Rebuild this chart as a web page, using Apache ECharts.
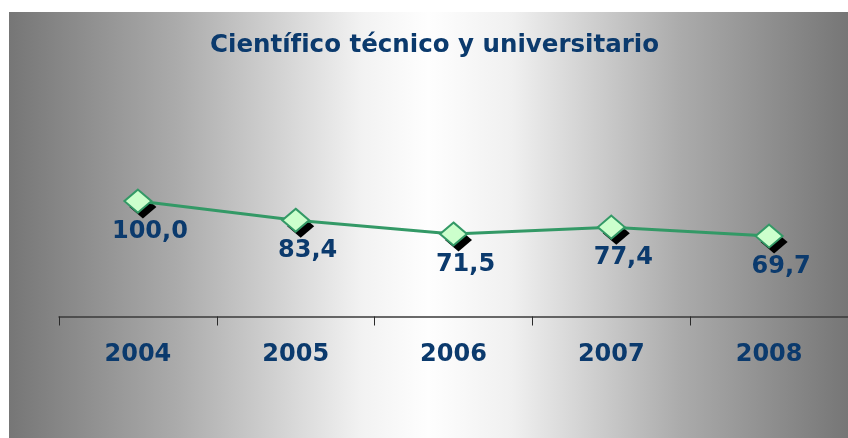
<!DOCTYPE html>
<html lang="es">
<head>
    <meta charset="UTF-8">
    <title>Científico técnico y universitario</title>
    <script src="https://cdn.jsdelivr.net/npm/echarts@6/dist/echarts.min.js"></script>
    <style type="text/css">
        html, body { margin: 0; padding: 0; background: #ffffff; }
        #chart { width: 848px; height: 438px; }
    </style>
</head>
<body>
<div id="chart"></div>
<script type="text/javascript">
    // datos
    var years = ['2004', '2005', '2006', '2007', '2008'];
    var values = [100.0, 83.4, 71.5, 77.4, 69.7];

    var navy = '#0b3a6d';
    var font = 'DejaVu Sans, Verdana, sans-serif';
    var chart = echarts.init(document.getElementById('chart'));

    var option = {
        animation: false,
        graphic: [{
            type: 'rect',
            z: -10,
            silent: true,
            shape: {x: 9, y: 12, width: 839, height: 426},
            style: {
                fill: new echarts.graphic.LinearGradient(0, 0, 1, 0, [
                    {offset: 0, color: '#767676'},
                    {offset: 0.2, color: '#ababab'},
                    {offset: 0.42, color: '#f2f2f2'},
                    {offset: 0.5, color: '#fefefe'},
                    {offset: 0.6, color: '#f0f0f0'},
                    {offset: 0.8, color: '#ababab'},
                    {offset: 1, color: '#767676'}
                ])
            }
        }],
        title: {
            text: 'Científico técnico y universitario',
            left: 210,
            top: 33,
            padding: 0,
            textStyle: {
                color: navy,
                fontFamily: font,
                fontWeight: 'bold',
                fontSize: 24.5
            }
        },
        grid: {
            left: 59,
            width: 795,
            top: 178,
            bottom: 121.5
        },
        xAxis: {
            type: 'category',
            data: years,
            boundaryGap: true,
            axisLine: {lineStyle: {color: '#3a3a3a', width: 1.5}},
            axisTick: {show: true, length: 9, lineStyle: {color: '#2a2a2a'}},
            axisLabel: {
                margin: 26,
                color: navy,
                fontFamily: font,
                fontWeight: 'bold',
                fontSize: 24
            }
        },
        yAxis: {
            type: 'value',
            min: 0,
            max: 120,
            show: false,
            splitLine: {show: false}
        },
        series: [{
            // sombra de los marcadores
            type: 'line',
            data: values,
            z: 1,
            symbol: 'diamond',
            symbolSize: [27, 23],
            symbolOffset: [5, 6],
            showAllSymbol: true,
            lineStyle: {opacity: 0},
            itemStyle: {color: '#000000'},
            silent: true
        }, {
            type: 'line',
            data: values,
            z: 3,
            symbol: 'diamond',
            symbolSize: [27, 23],
            lineStyle: {color: '#339966', width: 3},
            itemStyle: {
                color: '#ccffcc',
                borderColor: '#339966',
                borderWidth: 2
            },
            label: {
                show: true,
                position: 'bottom',
                distance: 6,
                offset: [12, 0],
                color: navy,
                fontFamily: font,
                fontWeight: 'bold',
                fontSize: 24,
                formatter: function (p) {
                    return p.value.toFixed(1).replace('.', ',');
                }
            }
        }]
    };
    chart.setOption(option);
</script>
</body>
</html>
